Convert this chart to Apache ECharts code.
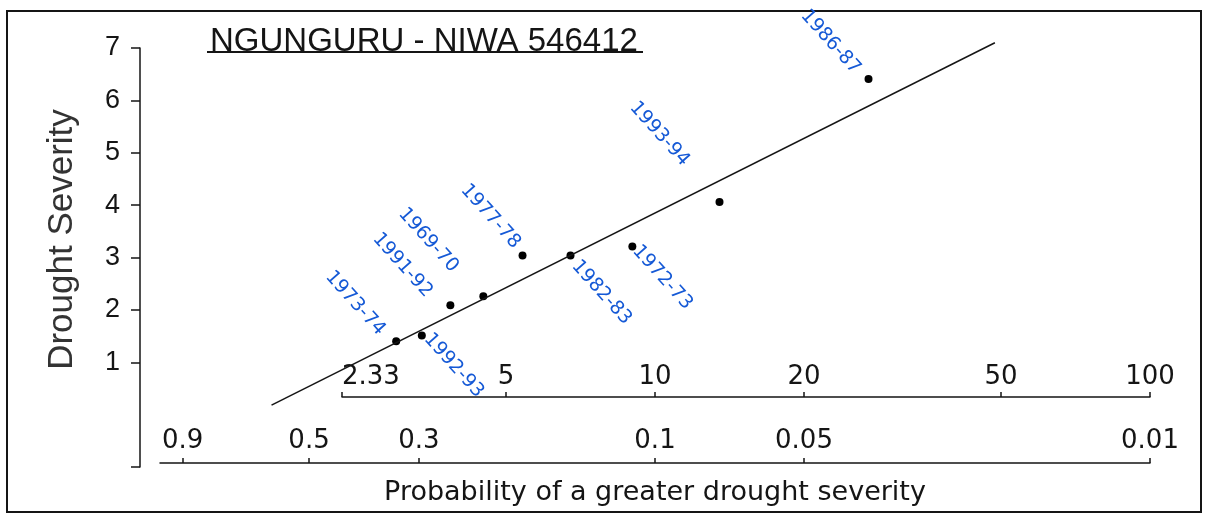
<!DOCTYPE html>
<html>
<head>
<meta charset="utf-8">
<script src="https://cdn.jsdelivr.net/npm/echarts@6/dist/echarts.min.js"></script>
<style>
  html, body { margin: 0; padding: 0; background: #fff; }
  #main { width: 1205px; height: 517px; }
</style>
</head>
<body>
<div id="main"></div>
<script>
// drought seasons, ranked by severity
var seasons = ['1986-87', '1993-94', '1972-73', '1982-83', '1977-78', '1969-70', '1991-92', '1992-93', '1973-74'];
var returnPeriod = [27, 13.5, 9, 6.75, 5.4, 4.5, 3.86, 3.38, 3.0];
var severity = [6.41, 4.06, 3.21, 3.04, 3.04, 2.26, 2.09, 1.51, 1.40];

// fitted line, two end points (return period, severity)
var fitPeriod = [1.68, 48.6];
var fitSeverity = [0.18, 7.10];

var severityTicks = [1, 2, 3, 4, 5, 6, 7];
var periodTicks = [2.33, 5, 10, 20, 50, 100];
var probTicks = [0.9, 0.5, 0.3, 0.1, 0.05, 0.01];

// where each hand written label sits relative to its dot (px)
var labelOffset = {
  '1986-87': [-38, -37],
  '1993-94': [-60, -68],
  '1972-73': [30, 31],
  '1982-83': [31, 37],
  '1977-78': [-32, -39],
  '1969-70': [-55, -56],
  '1991-92': [-48, -40],
  '1992-93': [32, 30],
  '1973-74': [-41, -38]
};

var ink = '#151515';
var font = 'Liberation Sans';
var wideFont = 'DejaVu Sans';
var dotSize = 8;

var chart = echarts.init(document.getElementById('main'));

var points = seasons.map(function (s, i) {
  var off = labelOffset[s];
  return {
    name: s,
    value: [returnPeriod[i], severity[i]],
    label: { position: [dotSize / 2 + off[0], dotSize / 2 + off[1]] }
  };
});

var fitLine = fitPeriod.map(function (p, i) {
  return [p, fitSeverity[i]];
});

function numLabel(v) {
  return String(+Number(v).toPrecision(3));
}

var option = {
  animation: false,
  backgroundColor: '#fff',
  title: {
    text: 'NGUNGURU - NIWA 546412',
    left: 205,
    top: 20,
    textStyle: { fontFamily: font, fontSize: 33, fontWeight: 'normal', color: ink }
  },
  graphic: [
    {
      type: 'rect',
      shape: { x: 7, y: 11, width: 1194, height: 501 },
      style: { fill: 'none', stroke: ink, lineWidth: 2 }
    },
    {
      type: 'line',
      shape: { x1: 207, y1: 52, x2: 643, y2: 52 },
      style: { stroke: ink, lineWidth: 2 }
    }
  ],
  grid: [
    { left: 160, right: 55, top: 48, bottom: 50 },
    { left: 342, right: 55, top: 396, height: 1 },
    { left: 160, right: 55, top: 462, height: 1 }
  ],
  xAxis: [
    {
      gridIndex: 0,
      type: 'log',
      min: 1,
      max: 100,
      axisLine: { show: false },
      axisTick: { show: false },
      axisLabel: { show: false },
      splitLine: { show: false },
      name: 'Probability of a greater drought severity',
      nameLocation: 'middle',
      nameGap: 12,
      nameTextStyle: { fontFamily: wideFont, fontSize: 27, color: ink }
    },
    {
      gridIndex: 1,
      type: 'log',
      position: 'top',
      min: 2.33,
      max: 100,
      axisLine: { lineStyle: { color: ink, width: 1.5 } },
      axisTick: { customValues: periodTicks, length: 5, lineStyle: { color: ink, width: 1.5 } },
      axisLabel: {
        customValues: periodTicks,
        formatter: numLabel,
        margin: 6,
        fontFamily: wideFont,
        fontSize: 26,
        color: ink,
        alignMinLabel: 'left'
      },
      splitLine: { show: false }
    },
    {
      gridIndex: 2,
      type: 'log',
      position: 'top',
      inverse: true,
      min: 0.01,
      max: 1,
      axisLine: { lineStyle: { color: ink, width: 1.5 } },
      axisTick: { customValues: probTicks, length: 5, lineStyle: { color: ink, width: 1.5 } },
      axisLabel: {
        customValues: probTicks,
        formatter: numLabel,
        margin: 8,
        fontFamily: wideFont,
        fontSize: 26,
        color: ink
      },
      splitLine: { show: false }
    }
  ],
  yAxis: [
    {
      gridIndex: 0,
      type: 'value',
      min: -1,
      max: 7,
      interval: 1,
      offset: 20,
      axisLine: { show: true, lineStyle: { color: ink, width: 1.5 } },
      axisTick: { customValues: [-1].concat(severityTicks), length: 9, lineStyle: { color: ink, width: 1.5 } },
      axisLabel: { customValues: severityTicks, margin: 20, fontFamily: font, fontSize: 27, color: ink },
      splitLine: { show: false },
      name: 'Drought Severity',
      nameLocation: 'middle',
      nameGap: 60,
      nameTextStyle: { fontFamily: font, fontSize: 35, color: '#333', padding: [0, 0, 0, 36] }
    },
    { gridIndex: 1, type: 'value', show: false },
    { gridIndex: 2, type: 'value', show: false }
  ],
  series: [
    {
      type: 'line',
      xAxisIndex: 0,
      yAxisIndex: 0,
      data: fitLine,
      showSymbol: false,
      clip: false,
      lineStyle: { color: ink, width: 1.5 }
    },
    {
      type: 'scatter',
      xAxisIndex: 0,
      yAxisIndex: 0,
      data: points,
      symbolSize: dotSize,
      itemStyle: { color: '#000', opacity: 1 },
      label: {
        show: true,
        formatter: '{b}',
        rotate: -48,
        align: 'center',
        verticalAlign: 'middle',
        fontFamily: wideFont,
        fontSize: 19,
        color: '#1559d6'
      }
    }
  ]
};

chart.setOption(option);
</script>
</body>
</html>
